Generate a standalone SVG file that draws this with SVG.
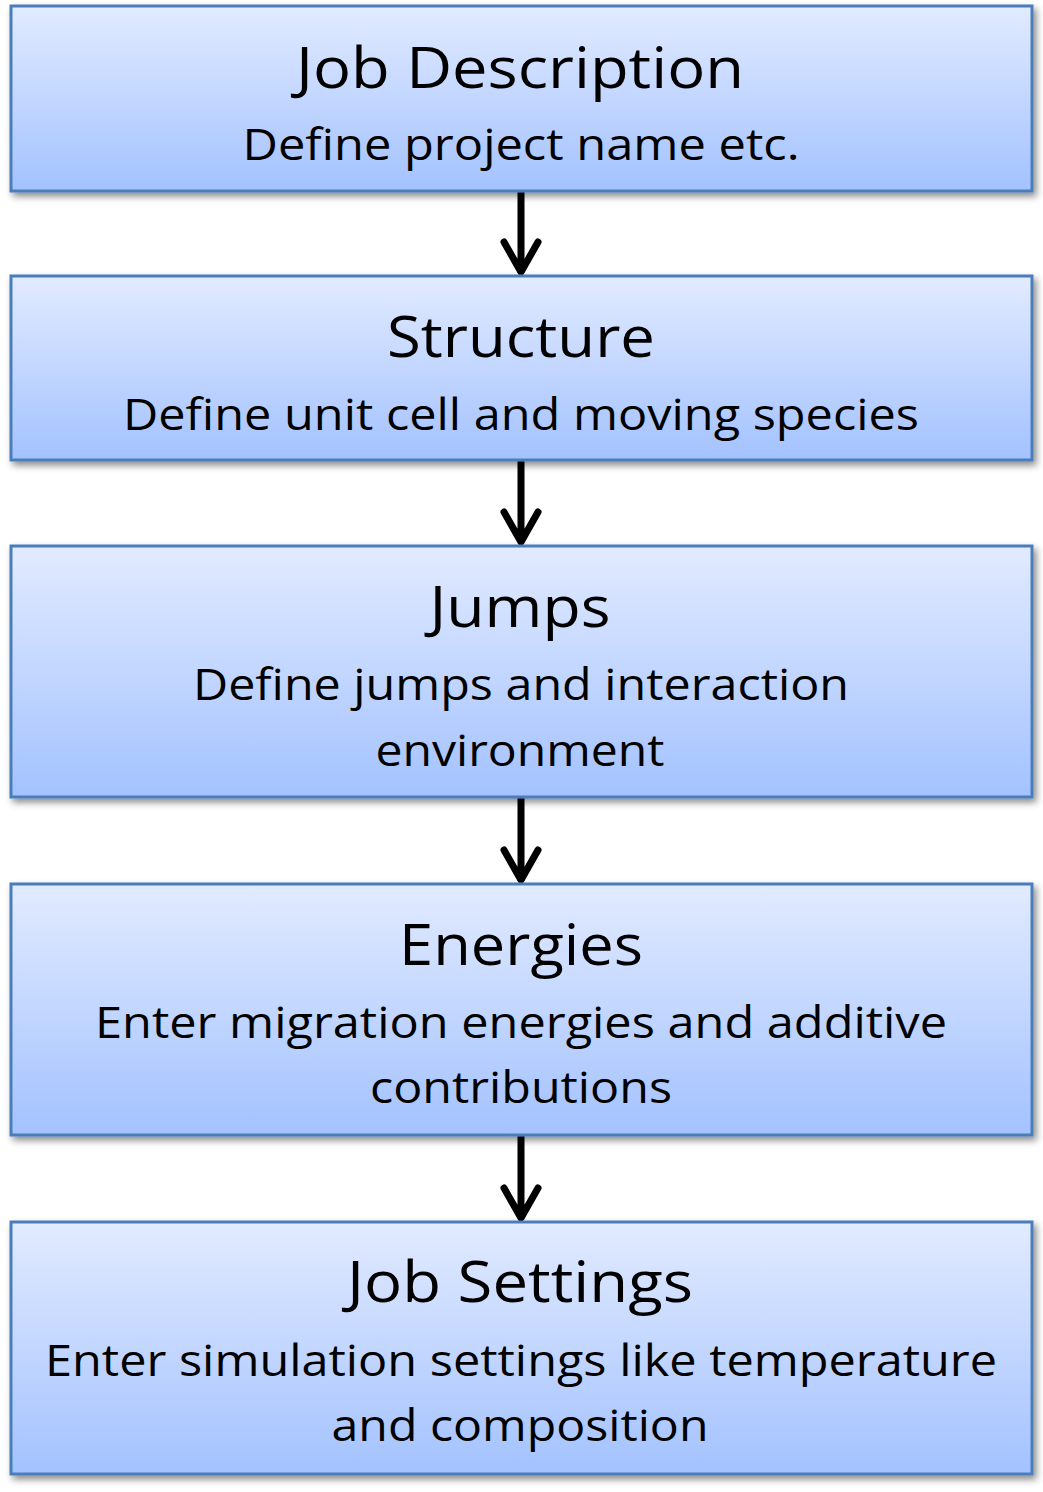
<svg xmlns="http://www.w3.org/2000/svg" width="1043" height="1492" viewBox="0 0 1043 1492">
<defs>
<linearGradient id="g" x1="0" y1="0" x2="0" y2="1">
<stop offset="0" stop-color="#e2ebff"/>
<stop offset="1" stop-color="#a3c2ff"/>
</linearGradient>
<filter id="sh" x="-5%" y="-10%" width="115%" height="130%">
<feDropShadow dx="3" dy="4" stdDeviation="3.5" flood-color="#000" flood-opacity="0.45"/>
</filter>
</defs>
<style>
.box{fill:url(#g);stroke:#4a7ebb;stroke-width:3;filter:url(#sh)}
.t{font-family:"Open Sans","Noto Sans",sans-serif;fill:#000;text-anchor:middle}
.h{font-size:57px}
.s{font-size:43px}
.arr{stroke:#000;stroke-width:7;fill:none;stroke-linecap:round;stroke-linejoin:round}
</style>
<rect width="1043" height="1492" fill="#fff"/>
<g id="connectors">
<path class="arr" d="M521 191V271M504 242L521 272L538 242"/>
<path class="arr" d="M521 460V541M504 512L521 542L538 512"/>
<path class="arr" d="M521 797V879M504 850L521 880L538 850"/>
<path class="arr" d="M521 1135V1217M504 1188L521 1218L538 1188"/>
</g>
<g id="job-description">
<rect class="box" x="11" y="6" width="1021" height="185"/>
<text class="t h" x="520" y="88" textLength="448" lengthAdjust="spacingAndGlyphs">Job Description</text>
<text class="t s" x="521" y="160" textLength="557" lengthAdjust="spacingAndGlyphs">Define project name etc.</text>
</g>
<g id="structure">
<rect class="box" x="11" y="276" width="1021" height="184"/>
<text class="t h" x="521" y="357" textLength="268" lengthAdjust="spacingAndGlyphs">Structure</text>
<text class="t s" x="521" y="430" textLength="796" lengthAdjust="spacingAndGlyphs">Define unit cell and moving species</text>
</g>
<g id="jumps">
<rect class="box" x="11" y="546" width="1021" height="251"/>
<text class="t h" x="520" y="627" textLength="181" lengthAdjust="spacingAndGlyphs">Jumps</text>
<text class="t s" x="521" y="700" textLength="656" lengthAdjust="spacingAndGlyphs">Define jumps and interaction</text>
<text class="t s" x="520" y="766" textLength="289" lengthAdjust="spacingAndGlyphs">environment</text>
</g>
<g id="energies">
<rect class="box" x="11" y="884" width="1021" height="251"/>
<text class="t h" x="521" y="965" textLength="244" lengthAdjust="spacingAndGlyphs">Energies</text>
<text class="t s" x="521" y="1038" textLength="852" lengthAdjust="spacingAndGlyphs">Enter migration energies and additive</text>
<text class="t s" x="521" y="1103" textLength="302" lengthAdjust="spacingAndGlyphs">contributions</text>
</g>
<g id="job-settings">
<rect class="box" x="11" y="1222" width="1021" height="252"/>
<text class="t h" x="520" y="1302" textLength="346" lengthAdjust="spacingAndGlyphs">Job Settings</text>
<text class="t s" x="521" y="1376" textLength="952" lengthAdjust="spacingAndGlyphs">Enter simulation settings like temperature</text>
<text class="t s" x="520" y="1441" textLength="377" lengthAdjust="spacingAndGlyphs">and composition</text>
</g>
</svg>
